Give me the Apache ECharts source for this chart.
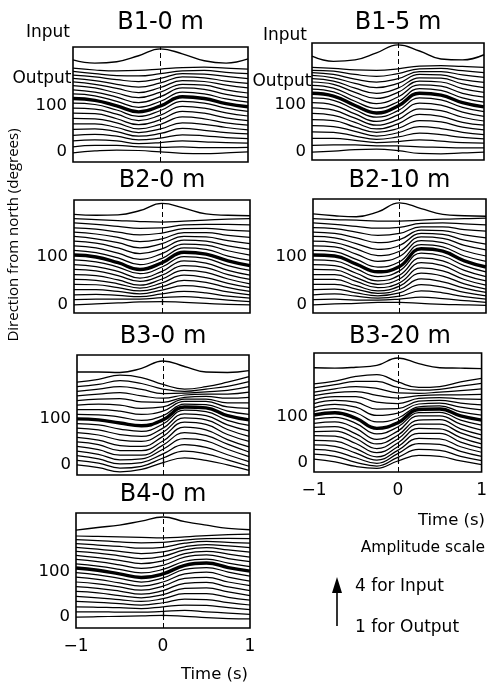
<!DOCTYPE html>
<html><head><meta charset="utf-8">
<script src="https://cdn.jsdelivr.net/npm/echarts@6/dist/echarts.min.js"></script>
<style>html,body{margin:0;padding:0;background:#fff}#c{width:490px;height:684px}</style>
</head><body><div id="c"></div>
<script>
// ---------------- DATA ----------------
const times = [-1, -0.75, -0.5, -0.25, 0, 0.25, 0.5, 0.75, 1];
const directions = [0,10,20,30,40,50,60,70,80,90,100,110,120,130,140,150,160,170,180];
const thickDirection = 100;
const panelTitles = ['B1-0 m','B1-5 m','B2-0 m','B2-10 m','B3-0 m','B3-20 m','B4-0 m'];
const xTickLabels = [-1, 0, 1];
const yTickLabels = [0, 100];

// input traces (one per panel), y in degree units of the panel axis
const inputB1_0m  = [200, 193, 196, 209, 224, 213, 198, 193, 202];
const inputB1_5m  = [204, 193, 196, 211, 228, 215, 198, 196, 207];
const inputB2_0m  = [189, 187, 188, 197, 212, 202, 190, 187, 186];
const inputB2_10m = [190, 186, 184, 194, 213, 201, 189, 186, 185];
const inputB3_0m  = [202, 202, 201, 210, 226, 214, 202, 201, 205];
const inputB3_20m = [207, 206, 208, 212, 228, 216, 207, 206, 205];
const inputB4_0m  = [193, 199, 204, 213, 222, 212, 204, 197, 194];

// output traces: one row per direction (0..180), values at the times above
const outputB1_0m = [
 [-2,2,4,3,0,-3,-4,-2,0],[11,14,14,11,10,11,9,9,10],[24,26,24,18,20,24,22,20,19],
 [36,38,34,26,30,37,35,31,29],[49,50,44,34,40,51,47,42,39],[61,61,53,42,50,63,60,53,48],
 [73,72,63,50,60,76,72,63,58],[84,83,72,59,70,88,84,74,68],[95,93,82,68,80,99,95,85,78],
 [106,103,91,77,90,110,106,95,88],[116,112,100,87,100,120,116,105,98],[126,122,110,97,110,130,126,115,108],
 [135,130,119,107,120,139,136,125,118],[144,139,128,118,130,147,145,135,128],[152,147,138,129,140,155,153,145,139],
 [160,155,147,141,150,163,161,154,149],[167,163,157,153,160,170,169,164,159],[175,170,166,165,170,176,177,173,170],
 [182,178,176,177,180,183,184,182,180]
];
const outputB1_5m = [
 [0,2,5,6,3,-3,-4,-2,0],[14,15,15,13,13,11,10,9,9],[29,29,25,20,22,26,23,20,19],
 [43,42,34,27,32,40,37,31,28],[56,54,44,34,41,54,50,42,37],[69,67,53,42,50,67,64,53,47],
 [82,78,63,49,60,80,76,63,57],[94,89,72,57,69,92,88,74,66],[105,100,81,65,79,104,100,85,76],
 [115,110,90,74,88,115,111,95,86],[125,119,99,83,98,125,121,105,96],[134,128,108,93,107,135,131,115,106],
 [142,136,117,103,117,143,140,125,117],[149,144,127,114,127,151,149,135,127],[156,151,136,125,136,158,157,145,137],
 [163,158,146,137,146,165,164,154,148],[169,165,155,149,156,171,171,164,159],[174,172,165,161,167,177,178,173,169],
 [180,178,175,174,177,183,184,182,180]
];
const outputB2_0m = [
 [0,2,4,6,7,5,3,1,0],[11,12,12,12,15,17,14,10,7],[21,22,20,17,23,28,25,18,14],
 [32,32,28,23,31,40,36,27,21],[43,42,36,29,38,51,47,36,28],[53,51,44,35,46,62,57,45,36],
 [63,61,52,41,54,72,68,54,44],[74,71,61,49,62,82,78,63,53],[84,80,70,56,70,92,87,72,62],
 [94,90,79,65,79,101,97,82,72],[104,100,88,74,88,110,106,92,82],[114,109,98,84,97,119,116,102,93],
 [123,119,108,95,107,127,125,113,104],[133,129,119,107,117,135,133,123,116],[143,138,130,119,128,143,142,134,128],
 [152,148,141,132,138,151,151,145,141],[161,158,152,146,150,159,160,156,154],[171,168,164,160,161,167,168,168,167],
 [180,178,176,174,173,175,177,179,180]
];
const outputB2_10m = [
 [0,2,3,5,5,3,1,0,-1],[11,12,10,10,12,16,13,9,5],[21,23,18,14,18,29,25,17,12],
 [32,33,25,19,25,42,37,26,19],[43,43,33,24,32,54,48,35,26],[53,53,40,29,39,66,60,44,33],
 [63,63,49,36,46,77,71,53,41],[74,73,57,43,54,88,82,62,50],[84,82,66,50,62,98,92,72,59],
 [94,92,75,59,71,108,102,82,69],[104,102,85,69,80,117,112,92,79],[114,111,95,79,90,126,121,102,91],
 [123,121,106,91,101,134,130,113,102],[133,130,117,103,112,142,139,124,115],[143,140,128,116,124,149,147,135,127],
 [152,149,140,130,136,156,155,146,140],[161,159,152,145,149,163,163,157,154],[171,168,164,160,162,170,171,169,167],
 [180,178,177,175,175,177,179,180,181]
];
const outputB3_0m = [
 [0,-6,-15,-10,5,15,10,0,-12],[10,4,-7,-3,15,30,24,11,-3],[20,13,2,5,24,44,38,22,7],
 [30,23,11,13,34,57,52,34,18],[40,33,21,21,43,70,64,45,28],[50,44,31,31,52,82,76,55,39],
 [60,54,42,40,62,93,88,66,51],[70,65,54,51,71,102,98,77,62],[80,76,66,62,80,111,107,87,74],
 [90,87,78,73,89,119,116,97,86],[100,98,91,85,98,126,124,107,98],[110,109,104,97,107,132,131,117,110],
 [120,120,117,110,117,138,138,126,123],[130,132,130,123,126,143,143,135,135],[140,143,144,137,136,147,149,145,147],
 [150,154,157,150,145,152,154,154,158],[160,165,170,164,155,156,159,162,170],[170,175,183,177,165,160,165,171,181],
 [180,186,195,190,175,165,170,180,192]
];
const outputB3_20m = [
 [8,2,-8,-12,4,16,14,4,-4],[19,14,1,-7,12,29,27,14,5],[29,25,11,-1,20,42,40,25,14],
 [39,36,21,6,27,53,52,35,23],[49,47,31,13,35,64,64,45,32],[59,58,42,22,43,75,74,55,41],
 [68,69,53,31,52,84,84,65,51],[77,79,63,41,60,93,94,74,61],[86,89,75,51,69,102,102,84,71],
 [95,99,86,63,78,109,110,93,82],[104,109,97,75,87,116,117,102,93],[112,118,109,89,97,122,124,111,104],
 [120,127,121,103,108,128,130,121,115],[129,136,132,117,118,134,136,130,126],[137,144,144,132,129,140,142,139,138],
 [146,153,155,147,141,146,148,148,149],[154,161,166,162,152,151,154,157,161],[163,170,177,177,164,158,160,167,173],
 [172,178,188,192,176,164,166,176,184]
];
const outputB4_0m = [
 [0,1,2,3,4,2,-1,-3,-4],[12,12,11,11,13,15,12,9,6],[23,22,21,19,23,27,26,21,17],
 [35,33,30,27,32,40,39,32,27],[46,43,39,35,41,52,52,44,38],[57,54,48,43,50,64,65,56,48],
 [68,64,58,51,59,75,77,67,59],[78,74,67,60,69,86,88,78,70],[89,84,76,69,78,96,100,89,80],
 [99,94,86,78,87,106,110,100,91],[109,104,96,88,96,115,120,110,102],[118,113,106,98,106,124,129,120,112],
 [128,123,116,108,115,133,138,130,123],[137,132,126,119,125,141,146,140,133],[146,142,136,130,135,149,154,149,144],
 [155,151,146,141,145,156,161,158,154],[163,160,157,153,155,164,168,166,164],[172,170,167,165,166,171,174,175,174],
 [180,179,178,177,176,178,181,183,184]
];

// ---------------- LAYOUT ----------------
const FONT = 'DejaVu Sans';
const panels = [
  {input: inputB1_0m,  output: outputB1_0m,  box:[73,47,175,115],  yr:[-22,228], xl:false, ty:23},
  {input: inputB1_5m,  output: outputB1_5m,  box:[312,43,172,117], yr:[-17,232], xl:false, ty:23},
  {input: inputB2_0m,  output: outputB2_0m,  box:[74,200,176,113], yr:[-17,219], xl:false, ty:181},
  {input: inputB2_10m, output: outputB2_10m, box:[313,199,173,114], yr:[-17,221], xl:false, ty:181},
  {input: inputB3_0m,  output: outputB3_0m,  box:[77,355,172,120], yr:[-22,239], xl:false, ty:337},
  {input: inputB3_20m, output: outputB3_20m, box:[314,353,172,119], yr:[-20,239], xl:true,  ty:337},
  {input: inputB4_0m,  output: outputB4_0m,  box:[76,513,174,115], yr:[-24,231], xl:true,  ty:495}
];

const grids = [], xAxes = [], yAxes = [], series = [], graphics = [];
const fmt = v => v < 0 ? '\u2212' + (-v) : String(v);

panels.forEach((p, i) => {
  const [l, t, w, h] = p.box;
  grids.push({left:l, top:t, width:w, height:h, show:true, borderColor:'#000', borderWidth:1.6, backgroundColor:'transparent'});
  xAxes.push({gridIndex:i, type:'value', min:-1, max:1,
    axisLine:{show:false}, splitLine:{show:false},
    axisTick:{show:true, inside:true, length:6, customValues:[0], lineStyle:{color:'#000', width:1.3}},
    axisLabel:{show:p.xl, customValues:xTickLabels, formatter:fmt, fontSize:17, fontFamily:FONT, color:'#000', margin:10}});
  yAxes.push({gridIndex:i, type:'value', min:p.yr[0], max:p.yr[1],
    axisLine:{show:false}, splitLine:{show:false}, axisTick:{show:false},
    axisLabel:{customValues:yTickLabels, fontSize:16.5, fontFamily:FONT, color:'#000', margin:6}});
  series.push({type:'line', xAxisIndex:i, yAxisIndex:i, smooth:0.45, showSymbol:false, silent:true,
    data: times.map((tt, k) => [tt, p.input[k]]), lineStyle:{color:'#000', width:1.4},
    markLine:{silent:true, symbol:'none', label:{show:false},
      lineStyle:{color:'#000', width:1, type:[5,3]}, data:[{xAxis:0}]}});
  p.output.forEach((row, j) => {
    const thick = directions[j] === thickDirection;
    series.push({type:'line', xAxisIndex:i, yAxisIndex:i, smooth:0.45, showSymbol:false, silent:true,
      z: thick ? 3 : 2,
      data: times.map((tt, k) => [tt, row[k]]),
      lineStyle:{color:'#000', width: thick ? 3.4 : 1.25}});
  });
  graphics.push({type:'text', x: l + w/2, y: p.ty,
    style:{text: panelTitles[i], font:'24px "' + FONT + '"', fill:'#000', textAlign:'center', textVerticalAlign:'middle'}});
});

function txt(s, x, y, size, align) {
  return {type:'text', x, y, style:{text:s, font:size + 'px "' + FONT + '"', fill:'#000',
    textAlign:align || 'left', textVerticalAlign:'middle'}};
}
graphics.push(txt('Input', 48, 33, 17, 'center'));
graphics.push(txt('Output', 42, 79, 17, 'center'));
graphics.push(txt('Input', 285, 36, 17, 'center'));
graphics.push(txt('Output', 282, 82, 17, 'center'));
graphics.push(txt('Time (s)', 485, 521, 16.5, 'right'));
graphics.push(txt('Time (s)', 248, 675, 16.5, 'right'));
graphics.push(txt('Amplitude scale', 485, 548, 15.5, 'right'));
graphics.push(txt('4 for Input', 355, 587, 17, 'left'));
graphics.push(txt('1 for Output', 355, 628, 17, 'left'));
graphics.push({type:'text', x:14, y:235, rotation:Math.PI/2,
  style:{text:'Direction from north (degrees)', font:'15px "Open Sans"', fill:'#000', textAlign:'center', textVerticalAlign:'middle'}});
graphics.push({type:'line', shape:{x1:337, y1:626, x2:337, y2:590}, style:{stroke:'#000', lineWidth:1.6}});
graphics.push({type:'polygon', shape:{points:[[332,593],[342,593],[337,577]]}, style:{fill:'#000'}});

const chart = echarts.init(document.getElementById('c'), null, {renderer:'canvas'});
chart.setOption({animation:false, backgroundColor:'#fff', grid:grids, xAxis:xAxes, yAxis:yAxes, series, graphic:graphics});
</script></body></html>
